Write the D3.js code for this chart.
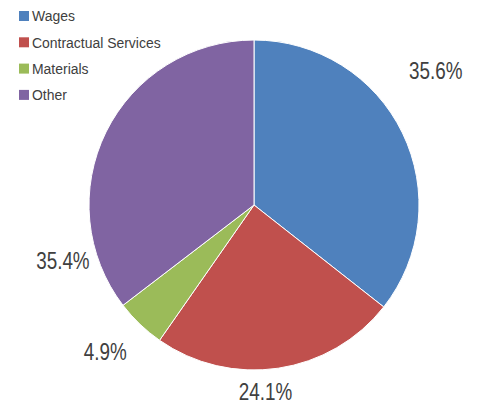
<!DOCTYPE html>
<html>
<head>
<meta charset="utf-8">
<script src="https://cdn.jsdelivr.net/npm/d3@7/dist/d3.min.js"></script>
<style>
  html, body { margin: 0; padding: 0; background: #fff; }
  svg { display: block; }
  text { font-family: "Liberation Sans", Arial, sans-serif; fill: #404040; }
</style>
</head>
<body>
<svg id="chart" width="477" height="406"></svg>
<script>
// Spending breakdown, percent of total
const categories = ["Wages", "Contractual Services", "Materials", "Other"];
const values = [35.6, 24.1, 4.9, 35.4];
const colors = ["#4F81BD", "#C0504D", "#9BBB59", "#8064A2"];

// Where each percentage label sits: fraction along the slice and distance from centre
const labelAlong = [0.4175, 0.557, 0.594, 0.1667];
const labelDist = [226, 187, 209, 199];

const width = 477, height = 406;
const cx = 254, cy = 205, radius = 165;

const svg = d3.select("#chart");

const pie = d3.pie().sort(null).value(d => d)
  .startAngle(0).endAngle(2 * Math.PI);
const arcs = pie(values);
const arc = d3.arc().innerRadius(0).outerRadius(radius);

const g = svg.append("g").attr("transform", `translate(${cx},${cy})`);

g.selectAll("path.slice")
  .data(arcs)
  .enter().append("path")
  .attr("class", "slice")
  .attr("d", arc)
  .attr("fill", (d, i) => colors[i])
  .attr("stroke", "#fff")
  .attr("stroke-width", 1);

function labelPos(d, i) {
  const a = d.startAngle + (d.endAngle - d.startAngle) * labelAlong[i];
  return [Math.sin(a) * labelDist[i], -Math.cos(a) * labelDist[i]];
}

// Percentage labels, drawn in a narrow face
g.selectAll("g.pct")
  .data(arcs)
  .enter().append("g")
  .attr("class", "pct")
  .attr("transform", (d, i) => {
    const [x, y] = labelPos(d, i);
    return `translate(${x},${y}) scale(0.82,1)`;
  })
  .append("text")
  .attr("text-anchor", "middle")
  .attr("dominant-baseline", "central")
  .style("font-size", "23px")
  .text(d => d3.format(".1f")(d.data) + "%");

// Legend
const legend = svg.append("g").attr("transform", "translate(19,11)");
const rows = legend.selectAll("g.row")
  .data(categories)
  .enter().append("g")
  .attr("class", "row")
  .attr("transform", (d, i) => `translate(0,${i * 26.3})`);

rows.append("rect")
  .attr("width", 10).attr("height", 10)
  .attr("fill", (d, i) => colors[i]);

rows.append("g")
  .attr("transform", "translate(13,5) scale(0.9,1)")
  .append("text")
  .attr("dominant-baseline", "central")
  .style("font-size", "15.5px")
  .text(d => d);
</script>
</body>
</html>
